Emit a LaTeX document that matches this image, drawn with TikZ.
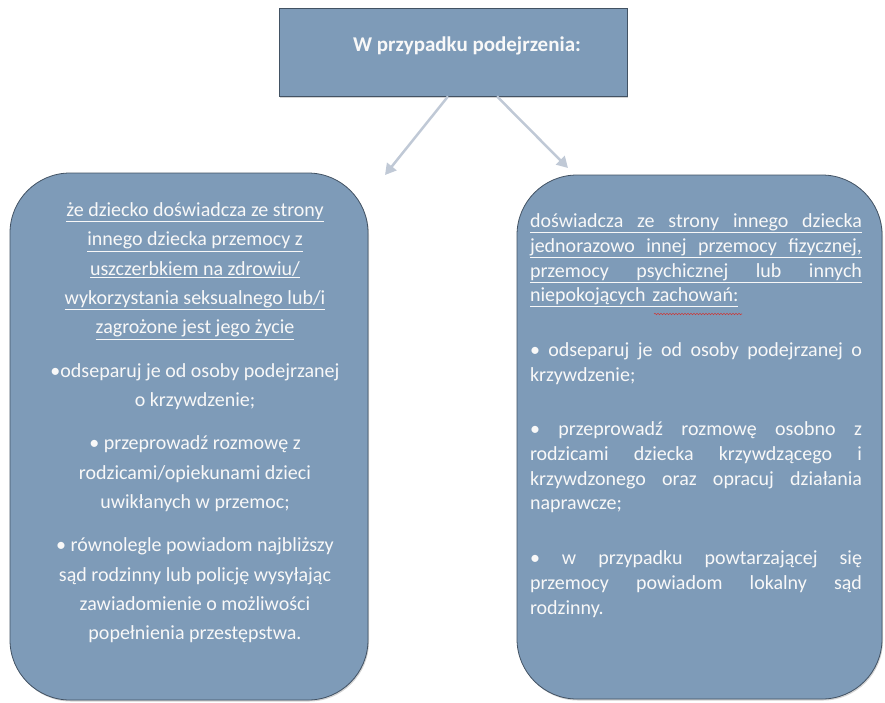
\documentclass[tikz,border=0pt]{standalone}
\usepackage{fontspec}
\setmainfont{Carlito}
\usetikzlibrary{arrows.meta,positioning,shadows,decorations.pathmorphing}
\definecolor{boxblue}{RGB}{126,155,184}
\definecolor{boxline}{RGB}{66,82,99}
\definecolor{arrowgray}{RGB}{192,201,214}
\definecolor{textwhite}{RGB}{248,248,248}
\definecolor{spellred}{RGB}{200,60,60}
\tikzset{
  panel/.style={draw=boxline, line width=0.8pt, fill=boxblue,
    drop shadow={opacity=0.35, shadow xshift=1pt, shadow yshift=-1.5pt}},
  flowarrow/.style={draw=arrowgray, line width=2.5pt, -{Triangle[length=11pt,width=12pt]}},
  paneltext/.style={text=textwhite, inner sep=0pt}
}
\newcommand{\fullline}[1]{\leavevmode\hbox to 332pt{#1}}
\begin{document}
\begin{tikzpicture}[x=1pt,y=-1pt]
  \useasboundingbox (0,0) rectangle (885,702);
  % boxes
  \node[panel, minimum width=348pt, minimum height=88pt, text=textwhite,
    font=\bfseries\fontsize{21}{24}\selectfont, text depth=15pt] (top) at (453,52) {\hspace*{28pt}W przypadku podejrzenia:};
  \node[panel, rounded corners=60pt, minimum width=358pt, minimum height=527pt] (leftbox) at (189,436.5) {};
  \node[panel, rounded corners=60pt, minimum width=365pt, minimum height=524pt] (rightbox) at (699.5,437) {};
  % arrows
  \coordinate (lefttip) at (385,175);
  \coordinate (righttip) at (568,168);
  \draw[flowarrow] ([xshift=-5pt]top.south) -- (lefttip);
  \draw[flowarrow] ([xshift=44pt]top.south) -- (righttip);
  % texts
  \node[paneltext, align=center, font=\fontsize{20}{29.3}\selectfont,
    below=30pt of leftbox.north, xshift=6pt] (lefttext) {%
    \underline{że dziecko doświadcza ze strony}\\
    \underline{innego dziecka przemocy z}\\
    \underline{uszczerbkiem na zdrowiu/}\\
    \underline{wykorzystania seksualnego lub/i}\\
    \underline{zagrożone jest jego życie}\\[14pt]
    •odseparuj je od osoby podejrzanej\\
    o krzywdzenie;\\[14pt]
    • przeprowadź rozmowę z\\
    rodzicami/opiekunami dzieci\\
    uwikłanych w przemoc;\\[14pt]
    • równolegle powiadom najbliższy\\
    sąd rodzinny lub policję wysyłając\\
    zawiadomienie o możliwości\\
    popełnienia przestępstwa.};
  \node[paneltext, align=left, text width=332pt, font=\fontsize{20}{24.7}\selectfont,
    below=39pt of rightbox.north, xshift=-3.5pt] (righttext) {%
    \underline{\fullline{doświadcza\hfill ze\hfill strony\hfill innego\hfill dziecka}}\\
    \underline{\fullline{jednorazowo\hfill innej\hfill przemocy\hfill fizycznej,}}\\
    \underline{\fullline{przemocy\hfill psychicznej\hfill lub\hfill innych}}\\
    \underline{niepokojących zachowań:}\\[30pt]
    \fullline{•\hfill odseparuj\hfill je\hfill od\hfill osoby\hfill podejrzanej\hfill o}\\
    krzywdzenie;\\[30pt]
    \fullline{•\hfill przeprowadź\hfill rozmowę\hfill osobno\hfill z}\\
    \fullline{rodzicami\hfill dziecka\hfill krzywdzącego\hfill i}\\
    \fullline{krzywdzonego\hfill oraz\hfill opracuj\hfill działania}\\
    naprawcze;\\[30pt]
    \fullline{•\hfill w\hfill przypadku\hfill powtarzającej\hfill się}\\
    \fullline{przemocy\hfill powiadom\hfill lokalny\hfill sąd}\\
    rodzinny.};
  \draw[spellred, line width=0.6pt, decorate, decoration={snake, amplitude=0.7pt, segment length=3pt}]
    (654,314) -- (742,314);
\end{tikzpicture}
\end{document}
